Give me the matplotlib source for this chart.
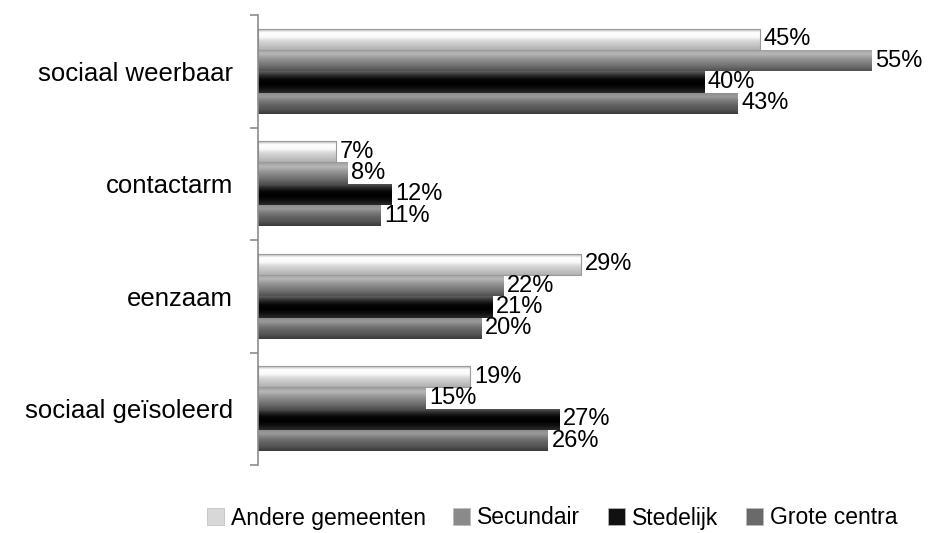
import numpy as np
import matplotlib
matplotlib.use("Agg")
import matplotlib.pyplot as plt
from matplotlib.colors import LinearSegmentedColormap
from matplotlib.patches import Patch

plt.rcParams['font.family'] = ['Liberation Sans', 'DejaVu Sans']

categories = ["sociaal weerbaar", "contactarm", "eenzaam", "sociaal geïsoleerd"]
series_names = ["Andere gemeenten", "Secundair", "Stedelijk", "Grote centra"]
andere = [45, 7, 29, 19]
secundair = [55, 8, 22, 15]
stedelijk = [40, 12, 21, 27]
grote = [43, 11, 20, 26]
values = [andere, secundair, stedelijk, grote]

gradients = [
    ["#a0a0a0", "#ffffff", "#fafafa", "#d6d6d6", "#c4c4c4", "#b0b0b0"],
    ["#9a9a9a", "#b8b8b8", "#9a9a9a", "#828282", "#6c6c6c", "#505050"],
    ["#606060", "#2a2a2a", "#050505", "#000000", "#101010", "#2a2a2a"],
    ["#8a8a8a", "#9a9a9a", "#7a7a7a", "#626262", "#545454", "#3a3a3a"],
]
edges = ["#9a9a9a", "none", "none", "none"]
legend_colors = ["#d8d8d8", "#8a8a8a", "#111111", "#6a6a6a"]

fig = plt.figure(figsize=(9.46, 5.33), dpi=100)
ax = fig.add_axes([258/946, 1-465/533, 669/946, 450/533])

y = np.arange(len(categories))
h = 0.19
offsets = [-0.285, -0.095, 0.095, 0.285]
grad = np.linspace(0, 1, 64).reshape(-1, 1)

for si, (vals, cols) in enumerate(zip(values, gradients)):
    cmap = LinearSegmentedColormap.from_list(f"g{si}", cols)
    bars = ax.barh(y + offsets[si], vals, height=h, facecolor="none",
                   edgecolor=edges[si], linewidth=0.8, zorder=2.5)
    for rect, v in zip(bars, vals):
        x0, y0 = rect.get_x(), rect.get_y()
        w, hh = rect.get_width(), rect.get_height()
        im = ax.imshow(grad, cmap=cmap, aspect="auto", origin="upper",
                       extent=(x0, x0 + w, y0 + hh, y0), interpolation="bilinear", zorder=2)
        im.set_clip_path(rect)
        ax.text(x0 + w + 0.35, y0 + hh / 2, f"{v}%", va="center", ha="left",
                fontsize=17, color="black", zorder=3)

ax.set_xlim(0, 60)
ax.set_ylim(3.5, -0.5)

for s in ["top", "right", "bottom"]:
    ax.spines[s].set_visible(False)
ax.spines["left"].set_color("#8c8c8c")
ax.spines["left"].set_linewidth(1.2)
ax.set_xticks([])
ax.set_yticks(y)
ax.set_yticklabels(categories, fontsize=18.5)
ax.tick_params(axis="y", which="major", length=0, pad=18)
ax.set_yticks(np.arange(-0.5, 4.0, 1.0), minor=True)
ax.tick_params(axis="y", which="minor", length=6, color="#8c8c8c", width=1.2)

handles = [Patch(facecolor=c, edgecolor="#bbbbbb", linewidth=0.5) for c in legend_colors]
fig.legend(handles, series_names, loc="center", bbox_to_anchor=(552/946, 1-518/533),
           ncol=4, frameon=False, fontsize=16.5, handlelength=0.75, handleheight=0.75,
           handletextpad=0.3, columnspacing=1.2)

fig.savefig("out.png", dpi=100)
